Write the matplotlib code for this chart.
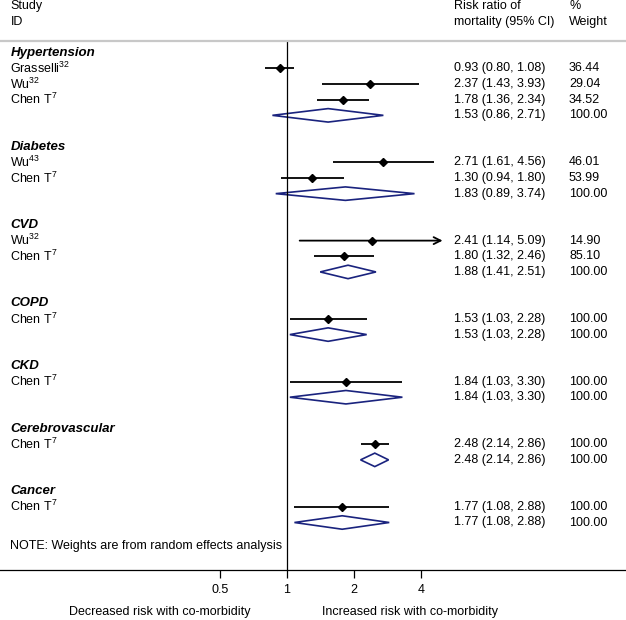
import matplotlib
matplotlib.use("Agg")
import matplotlib.pyplot as plt
from matplotlib.patches import Polygon

plt.rcParams['font.family'] = ['Liberation Sans', 'DejaVu Sans']
plt.rcParams['mathtext.fontset'] = 'custom'
plt.rcParams['mathtext.rm'] = 'Liberation Sans'
plt.rcParams['mathtext.it'] = 'Liberation Sans:italic'
plt.rcParams['mathtext.bf'] = 'Liberation Sans:bold'

# subgroups and pooled (random effects) estimates
groups = ['Hypertension', 'Diabetes', 'CVD', 'COPD', 'CKD', 'Cerebrovascular', 'Cancer']
pooled_rr = [1.53, 1.83, 1.88, 1.53, 1.84, 2.48, 1.77]
pooled_lo = [0.86, 0.89, 1.41, 1.03, 1.03, 2.14, 1.08]
pooled_hi = [2.71, 3.74, 2.51, 2.28, 3.30, 2.86, 2.88]

# individual studies
study_group = [0, 0, 0, 1, 1, 2, 2, 3, 4, 5, 6]
study_names = ['Grasselli', 'Wu', 'Chen T', 'Wu', 'Chen T', 'Wu', 'Chen T',
               'Chen T', 'Chen T', 'Chen T', 'Chen T']
study_refs = ['32', '32', '7', '43', '7', '32', '7', '7', '7', '7', '7']
study_rr = [0.93, 2.37, 1.78, 2.71, 1.30, 2.41, 1.80, 1.53, 1.84, 2.48, 1.77]
study_lo = [0.80, 1.43, 1.36, 1.61, 0.94, 1.14, 1.32, 1.03, 1.03, 2.14, 1.08]
study_hi = [1.08, 3.93, 2.34, 4.56, 1.80, 5.09, 2.46, 2.28, 3.30, 2.86, 2.88]
study_wt = [36.44, 29.04, 34.52, 46.01, 53.99, 14.90, 85.10, 100.00, 100.00, 100.00, 100.00]

xticks = [0.5, 1, 2, 4]
xtick_labels = ['0.5', '1', '2', '4']

W, H = 626, 620
PX_PER_DOUBLING = 67.0
X_ONE = 287.0          # pixel of RR = 1
X_CLIP = 5.0           # CI beyond this gets an arrow
ROW0, ROW_H = 52.7, 15.66
TOP_PX, AXIS_PX = 41, 570
FS = 9.0
NAVY = '#1a237e'

fig = plt.figure(figsize=(W / 100, H / 100), dpi=100)
ax = fig.add_axes([0, 1 - AXIS_PX / H, 1, (AXIS_PX - TOP_PX) / H])
ax.set_xscale('log', base=2)
ax.set_xlim(2 ** (-X_ONE / PX_PER_DOUBLING), 2 ** ((W - X_ONE) / PX_PER_DOUBLING))
ax.set_ylim((AXIS_PX - ROW0) / ROW_H, (TOP_PX - ROW0) / ROW_H)

for s in ['left', 'right']:
    ax.spines[s].set_visible(False)
ax.spines['top'].set_color('#c8c8c8')
ax.spines['top'].set_linewidth(1.6)
ax.spines['bottom'].set_linewidth(0.9)
ax.set_yticks([])
ax.set_xticks(xticks)
ax.set_xticklabels(xtick_labels, fontsize=FS)
ax.xaxis.set_minor_locator(matplotlib.ticker.NullLocator())
ax.tick_params(axis='x', length=6, width=0.9, pad=4)
ax.axvline(1, color='black', lw=0.9)

tr = ax.get_yaxis_transform()
X_LBL, X_EST, X_WT = 10.5 / W, 454 / W, 569 / W

def est_text(r, lo, hi):
    return f'{r:.2f} ({lo:.2f}, {hi:.2f})'

row = 0
for g, name in enumerate(groups):
    ax.text(X_LBL, row, name, transform=tr, fontsize=FS + 0.5, fontweight='bold',
            fontstyle='italic', va='center', ha='left')
    row += 1
    for i in [k for k, sg in enumerate(study_group) if sg == g]:
        label = study_names[i] + r'$^{\mathregular{' + study_refs[i] + '}}$'
        ax.text(X_LBL, row, label, transform=tr, fontsize=FS, va='center', ha='left')
        hi = study_hi[i]
        if hi > X_CLIP:
            ax.annotate('', xy=(X_CLIP, row), xytext=(study_lo[i], row),
                        arrowprops=dict(arrowstyle='->,head_length=0.5,head_width=0.25',
                                        color='black', lw=1.3, shrinkA=0, shrinkB=0))
        else:
            ax.plot([study_lo[i], hi], [row, row], color='black', lw=1.3,
                    solid_capstyle='butt')
        ax.plot(study_rr[i], row, marker='D', color='black', ms=4)
        ax.text(X_EST, row, est_text(study_rr[i], study_lo[i], study_hi[i]),
                transform=tr, fontsize=FS, va='center', ha='left')
        ax.text(X_WT, row, f'{study_wt[i]:.2f}', transform=tr, fontsize=FS,
                va='center', ha='left')
        row += 1
    h = 0.43
    dia = Polygon([(pooled_lo[g], row), (pooled_rr[g], row - h),
                   (pooled_hi[g], row), (pooled_rr[g], row + h)],
                  closed=True, fill=False, edgecolor=NAVY, lw=1.2)
    ax.add_patch(dia)
    ax.text(X_EST, row, est_text(pooled_rr[g], pooled_lo[g], pooled_hi[g]),
            transform=tr, fontsize=FS, va='center', ha='left')
    ax.text(X_WT, row, '100.00', transform=tr, fontsize=FS, va='center', ha='left')
    row += 2

ax.text(X_LBL, row - 0.5, 'NOTE: Weights are from random effects analysis',
        transform=tr, fontsize=FS, va='center', ha='left')

# column headers
for x, l1, l2 in [(X_LBL, 'Study', 'ID'), (X_EST, 'Risk ratio of', 'mortality (95% CI)'),
                  (X_WT, '%', 'Weight')]:
    fig.text(x, 1 - 6 / H, l1, fontsize=FS, va='center', ha='left')
    fig.text(x, 1 - 21.7 / H, l2, fontsize=FS, va='center', ha='left')

fig.text(160 / W, 1 - 612 / H, 'Decreased risk with co-morbidity', fontsize=FS,
         va='center', ha='center')
fig.text(410 / W, 1 - 612 / H, 'Increased risk with co-morbidity', fontsize=FS,
         va='center', ha='center')

fig.savefig('out.png', dpi=100)
